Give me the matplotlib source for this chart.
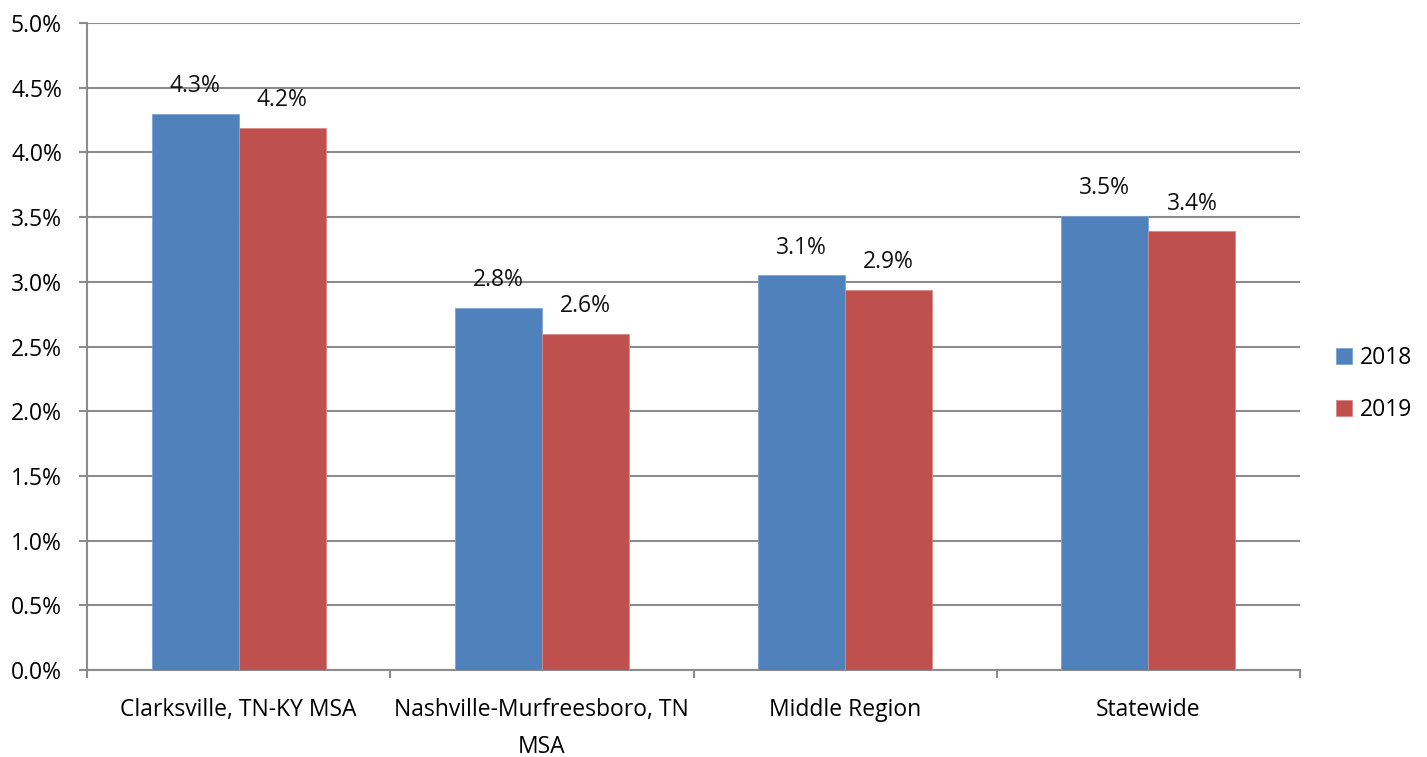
import matplotlib
matplotlib.use("Agg")
import matplotlib.pyplot as plt
import numpy as np

plt.rcParams['font.family'] = ['Open Sans', 'DejaVu Sans']

categories = ["Clarksville, TN-KY MSA", "Nashville-Murfreesboro, TN\nMSA",
              "Middle Region", "Statewide"]
series_names = ["2018", "2019"]
vals_2018 = [4.30, 2.80, 3.05, 3.51]
vals_2019 = [4.19, 2.60, 2.94, 3.39]
labels_2018 = ["4.3%", "2.8%", "3.1%", "3.5%"]
labels_2019 = ["4.2%", "2.6%", "2.9%", "3.4%"]
yticks = np.arange(0, 5.01, 0.5)

blue = "#4F81BD"
red = "#C0504D"
grid = "#8C8C8C"
fs = 16.5

fig = plt.figure(figsize=(14.27, 7.57), dpi=100)
ax = fig.add_axes([87/1427, 1 - 670/757, (1300-87)/1427, (670-23)/757])

x = np.arange(len(categories))
w = 0.287
b1 = ax.bar(x - w/2, vals_2018, w, color=blue, edgecolor="#7FA3D3", linewidth=0.6,
            label=series_names[0], zorder=3)
b2 = ax.bar(x + w/2, vals_2019, w, color=red, edgecolor="#D98A88", linewidth=0.6,
            label=series_names[1], zorder=3)

for rect, lab in zip(b1, labels_2018):
    ax.text(rect.get_x() + rect.get_width()/2, rect.get_height() + 0.12, lab,
            ha="center", va="bottom", fontsize=fs, color="#111111")
for rect, lab in zip(b2, labels_2019):
    ax.text(rect.get_x() + rect.get_width()/2, rect.get_height() + 0.12, lab,
            ha="center", va="bottom", fontsize=fs, color="#111111")

ax.set_xlim(-0.5, len(categories) - 0.5)
ax.set_ylim(0, 5.0)
ax.set_yticks(yticks)
ax.set_yticklabels(["%.1f%%" % v for v in yticks], fontsize=fs)
ax.yaxis.grid(True, color=grid, linewidth=1.5, zorder=0)
ax.set_axisbelow(True)

# category labels between boundary ticks
ax.set_xticks(np.arange(-0.5, len(categories), 1.0))
ax.set_xticklabels([])
ax.set_xticks(x, minor=True)
ax.set_xticklabels(categories, minor=True, fontsize=fs, linespacing=1.75)
ax.tick_params(axis="x", which="minor", length=0, pad=20)
ax.tick_params(axis="x", which="major", length=6, width=1.5, color=grid, direction="out")
ax.tick_params(axis="y", length=6, width=1.5, color=grid, direction="out", pad=12)

for s in ["top", "right"]:
    ax.spines[s].set_visible(False)
for s in ["left", "bottom"]:
    ax.spines[s].set_color(grid)
    ax.spines[s].set_linewidth(1.5)

fig.legend(handles=[b1, b2], labels=series_names, loc="center left",
           bbox_to_anchor=(1315/1427, 1 - 384/757), frameon=False, fontsize=fs,
           handlelength=0.7, handleheight=0.7, handletextpad=0.35, labelspacing=1.25)

fig.savefig("out.png", dpi=100)
